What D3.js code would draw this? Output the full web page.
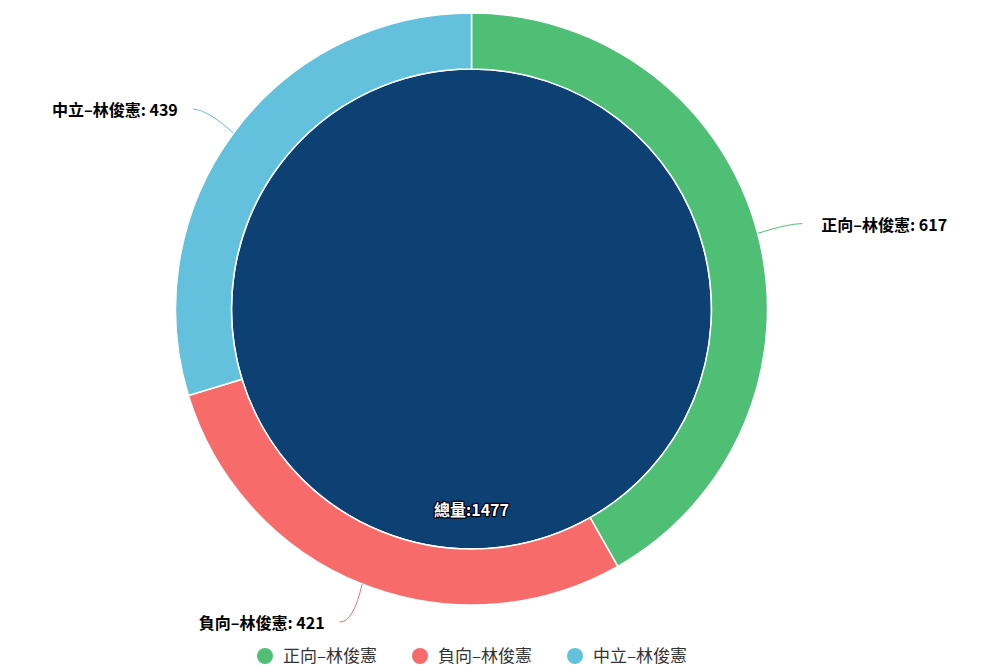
<!DOCTYPE html>
<html>
<head>
<meta charset="utf-8">
<script src="https://cdn.jsdelivr.net/npm/d3@7"></script>
<style>
  body { margin: 0; background: #fff; }
  text { font-family: "Noto Sans CJK TC", "Noto Sans", sans-serif; }
</style>
</head>
<body>
<script>
// data
const categories = ["正向–林俊憲", "負向–林俊憲", "中立–林俊憲"];
const values = [617, 421, 439];
const colors = ["#4fbf75", "#f76b6b", "#63c1dd"];
const totalLabel = "總量";
const totalValue = 1477;

const W = 1000, H = 667;
const cx = 471.5, cy = 309;
const outerR = 296, innerR = 240;

const svg = d3.select("body").append("svg")
  .attr("width", W)
  .attr("height", H);

const g = svg.append("g").attr("transform", `translate(${cx},${cy})`);

// inner total pie (one full slice)
const innerPie = d3.pie().sort(null)([totalValue]);
const innerArc = d3.arc().innerRadius(0).outerRadius(innerR);
g.selectAll("path.inner")
  .data(innerPie)
  .enter().append("path")
    .attr("class", "inner")
    .attr("d", innerArc)
    .attr("fill", "#0e4173")
    .attr("stroke", "#fff")
    .attr("stroke-width", 1.5);

// outer ring
const pie = d3.pie().sort(null).value(d => d.v);
const slices = pie(categories.map((c, i) => ({ c: c, v: values[i], col: colors[i] })));
const arc = d3.arc().innerRadius(innerR).outerRadius(outerR);
g.selectAll("path.outer")
  .data(slices)
  .enter().append("path")
    .attr("class", "outer")
    .attr("d", arc)
    .attr("fill", d => d.data.col)
    .attr("stroke", "#fff")
    .attr("stroke-width", 1.5);

// labels with connectors
const mid = d => (d.startAngle + d.endAngle) / 2;
slices.forEach(d => {
  const a = mid(d);
  const sx = Math.sin(a), sy = -Math.cos(a);
  const p0 = [sx * outerR, sy * outerR];
  const r1 = outerR + 42;
  const right = sx > 0;
  const p1 = [sx * r1 + (right ? 4 : -7), sy * r1 + (sy > 0 ? -1 : 1)];
  const ctrl = [p1[0] + (right ? -14 : 14), p1[1]];
  g.append("path")
    .attr("d", `M${p0[0]},${p0[1]} Q${ctrl[0]},${ctrl[1]} ${p1[0]},${p1[1]}`)
    .attr("fill", "none")
    .attr("stroke", d.data.col)
    .attr("stroke-width", 1);
  g.append("text")
    .attr("x", p1[0] + (right ? 19 : -15))
    .attr("y", p1[1] + 7)
    .attr("text-anchor", right ? "start" : "end")
    .attr("font-size", "16px")
    .attr("font-weight", "bold")
    .attr("fill", "#000")
    .text(`${d.data.c}: ${d.data.v}`);
});

// total label inside the inner pie
const ia = mid(innerPie[0]);
g.append("text")
  .attr("x", Math.sin(ia) * 200)
  .attr("y", -Math.cos(ia) * 200 + 7)
  .attr("text-anchor", "middle")
  .attr("font-size", "16px")
  .attr("font-weight", "bold")
  .attr("fill", "#fff")
  .attr("stroke", "#000")
  .attr("stroke-width", 2.5)
  .attr("paint-order", "stroke")
  .attr("stroke-linejoin", "round")
  .text(`${totalLabel}:${totalValue}`);

// legend
const legX = d3.scalePoint().domain(categories).range([265, 575]);
const leg = svg.selectAll("g.leg")
  .data(categories)
  .enter().append("g")
    .attr("class", "leg")
    .attr("transform", d => `translate(${legX(d)},656)`);
leg.append("circle")
  .attr("r", 8)
  .attr("fill", (d, i) => colors[i]);
leg.append("text")
  .attr("x", 18)
  .attr("y", 6)
  .attr("font-size", "17px")
  .attr("fill", "#333")
  .text(d => d);
</script>
</body>
</html>
